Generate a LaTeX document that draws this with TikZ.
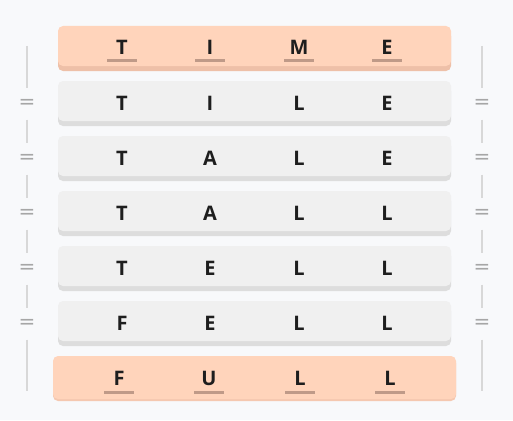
\documentclass[tikz,border=0pt]{standalone}
\usepackage{fontspec}
\setmainfont{Open Sans}
\newfontfamily\eqfont{DejaVu Sans}
\usetikzlibrary{positioning, shadows}

\definecolor{bgcol}{HTML}{F8F9FB}
\definecolor{orfill}{HTML}{FFD4BB}
\definecolor{orshd}{HTML}{EEC0A8}
\definecolor{grfill}{HTML}{F0F0F0}
\definecolor{grshd}{HTML}{DDDDDD}
\definecolor{ulcol}{HTML}{BF9A88}
\definecolor{txtcol}{HTML}{1E1E1E}
\definecolor{eqcol}{HTML}{A6A6A6}
\definecolor{vcol}{HTML}{D8D8D8}

\begin{document}
\begin{tikzpicture}[x=1pt,y=-1pt,
  row/.style={rounded corners=5pt, minimum width=393pt, minimum height=40pt, inner sep=0pt},
  orrow/.style={row, fill=orfill, general shadow={fill=orshd, shadow yshift=-5pt}},
  grrow/.style={row, fill=grfill, general shadow={fill=grshd, shadow yshift=-5pt}},
  letter/.style={inner sep=0pt, text=txtcol, font=\fontsize{20}{20}\selectfont\bfseries},
  uline/.style={ulcol, line width=3pt},
  eqs/.style={inner sep=0pt, minimum height=31pt, text=eqcol, font=\eqfont\fontsize{20}{20}\selectfont},
  vline/.style={vcol, line width=1.5pt}]
\fill[bgcol] (0,0) rectangle (513,420);
\useasboundingbox (0,0) rectangle (513,420);

% rows
\node[orrow] (r0) at (254.5,46) {};
\node[grrow] (r1) at (254.5,101) {};
\node[grrow] (r2) at (254.5,156) {};
\node[grrow] (r3) at (254.5,211) {};
\node[grrow] (r4) at (254.5,266) {};
\node[grrow] (r5) at (254.5,321) {};
\node[row, minimum width=403pt, minimum height=43pt, fill=orfill,
  general shadow={fill=orshd!60!orfill, shadow yshift=-2pt}] (r6) at (254.5,377.5) {};

% TIME
\node[letter] (a1) at (122,47.5) {T};
\node[letter] (a2) at (210,47.5) {I};
\node[letter] (a3) at (299,47.5) {M};
\node[letter] (a4) at (387,47.5) {E};
\draw[uline] ([xshift=-15pt,yshift=-13pt]a1.center) -- ([xshift=15pt,yshift=-13pt]a1.center);
\draw[uline] ([xshift=-15pt,yshift=-13pt]a2.center) -- ([xshift=15pt,yshift=-13pt]a2.center);
\draw[uline] ([xshift=-15pt,yshift=-13pt]a3.center) -- ([xshift=15pt,yshift=-13pt]a3.center);
\draw[uline] ([xshift=-15pt,yshift=-13pt]a4.center) -- ([xshift=15pt,yshift=-13pt]a4.center);

% TILE
\node[letter] (b1) at (122,103) {T};
\node[letter] (b2) at (210,103) {I};
\node[letter] (b3) at (299,103) {L};
\node[letter] (b4) at (387,103) {E};

% TALE
\node[letter] (c1) at (122,158) {T};
\node[letter] (c2) at (210,158) {A};
\node[letter] (c3) at (299,158) {L};
\node[letter] (c4) at (387,158) {E};

% TALL
\node[letter] (d1) at (122,213) {T};
\node[letter] (d2) at (210,213) {A};
\node[letter] (d3) at (299,213) {L};
\node[letter] (d4) at (387,213) {L};

% TELL
\node[letter] (e1) at (122,268) {T};
\node[letter] (e2) at (210,268) {E};
\node[letter] (e3) at (299,268) {L};
\node[letter] (e4) at (387,268) {L};

% FELL
\node[letter] (f1) at (122,323) {F};
\node[letter] (f2) at (210,323) {E};
\node[letter] (f3) at (299,323) {L};
\node[letter] (f4) at (387,323) {L};

% FULL
\node[letter] (g1) at (119,378) {F};
\node[letter] (g2) at (209,378) {U};
\node[letter] (g3) at (300,378) {L};
\node[letter] (g4) at (390,378) {L};
\draw[uline] ([xshift=-15pt,yshift=-14pt]g1.center) -- ([xshift=15pt,yshift=-14pt]g1.center);
\draw[uline] ([xshift=-15pt,yshift=-14pt]g2.center) -- ([xshift=15pt,yshift=-14pt]g2.center);
\draw[uline] ([xshift=-15pt,yshift=-14pt]g3.center) -- ([xshift=15pt,yshift=-14pt]g3.center);
\draw[uline] ([xshift=-15pt,yshift=-14pt]g4.center) -- ([xshift=15pt,yshift=-14pt]g4.center);

% left rail
\coordinate (ltop) at (27,46);
\coordinate (lbot) at (27,391);
\node[eqs] (l1) at (27,104) {=};
\node[eqs] (l2) at (27,159) {=};
\node[eqs] (l3) at (27,214) {=};
\node[eqs] (l4) at (27,269) {=};
\node[eqs] (l5) at (27,324) {=};
\draw[vline] (ltop) -- (l1) -- (l2) -- (l3) -- (l4) -- (l5) -- (lbot);

% right rail
\coordinate (rtop) at (482,46);
\coordinate (rbot) at (482,391);
\node[eqs] (q1) at (482,104) {=};
\node[eqs] (q2) at (482,159) {=};
\node[eqs] (q3) at (482,214) {=};
\node[eqs] (q4) at (482,269) {=};
\node[eqs] (q5) at (482,324) {=};
\draw[vline] (rtop) -- (q1) -- (q2) -- (q3) -- (q4) -- (q5) -- (rbot);
\end{tikzpicture}
\end{document}
